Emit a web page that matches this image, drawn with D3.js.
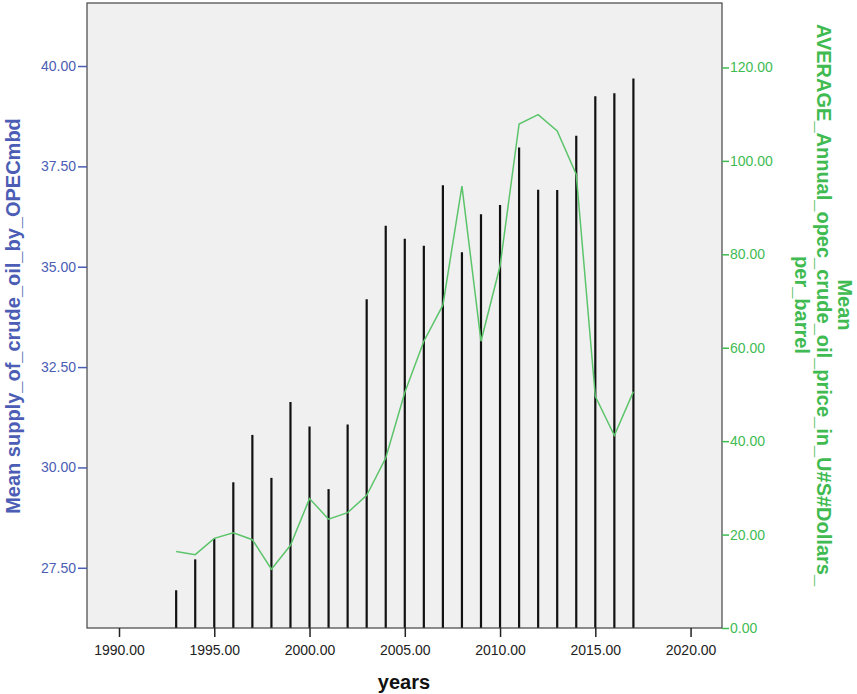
<!DOCTYPE html>
<html>
<head>
<meta charset="utf-8">
<script src="https://cdn.jsdelivr.net/npm/d3@7"></script>
<style>
  body { margin: 0; background: #fff; }
  svg text { font-family: "Liberation Sans", Arial, sans-serif; }
</style>
</head>
<body>
<div class="chart"></div>
<script>
// values
const years = [1993,1994,1995,1996,1997,1998,1999,2000,2001,2002,2003,2004,2005,
               2006,2007,2008,2009,2010,2011,2012,2013,2014,2015,2016,2017];
const supply = [26.94,27.71,28.23,29.63,30.81,29.74,31.63,31.02,29.46,31.07,34.19,36.02,35.70,
                35.52,37.03,35.36,36.31,36.54,37.97,36.92,36.91,38.26,39.25,39.32,39.69];
const price = [16.4,15.7,19.2,20.4,18.9,12.6,17.7,27.7,23.3,24.7,28.4,36.4,50.4,
               61.4,69.1,94.6,61.4,77.5,107.9,109.9,106.4,97.1,49.6,41.2,50.6];
const xTicks = [1990,1995,2000,2005,2010,2015,2020];
const leftTicks = [27.5,30,32.5,35,37.5,40];
const rightTicks = [0,20,40,60,80,100,120];

const W = 857, H = 694;
const margin = ({top:3, bottom:66, left:87, right:135});
const width = W - margin.left - margin.right,
      height = H - margin.top - margin.bottom;

const blue = '#4b5db4', green = '#3fbb52', lineGreen = '#5cc46b';

let svg = d3.select('.chart')
    .append('svg')
    .attr('width', W)
    .attr('height', H);

let group = svg.append('g')
    .attr('transform', `translate(${margin.left},${margin.top})`);

const xScale = d3.scaleLinear()
    .domain([1988.32, 2021.65])
    .range([0, width]);
const yLeft = d3.scaleLinear()
    .domain([26.0, 41.57])
    .range([height, 0]);
const yRight = d3.scaleLinear()
    .domain([0, 133.8])
    .range([height, 0]);

group.append('rect')
    .attr('width', width)
    .attr('height', height)
    .attr('fill', '#f0f0f0');

// bars drawn as thin spikes
group.selectAll('.bar')
    .data(years)
    .enter()
    .append('line')
    .attr('class', 'bar')
    .attr('x1', d => xScale(d))
    .attr('x2', d => xScale(d))
    .attr('y1', height)
    .attr('y2', (d, i) => yLeft(supply[i]))
    .attr('stroke', '#111')
    .attr('stroke-width', 2.2);

const line = d3.line()
    .x((d, i) => xScale(years[i]))
    .y(d => yRight(d));

group.append('path')
    .datum(price)
    .attr('d', line)
    .attr('fill', 'none')
    .attr('stroke', lineGreen)
    .attr('stroke-width', 1.5);

group.append('rect')
    .attr('width', width)
    .attr('height', height)
    .attr('fill', 'none')
    .attr('stroke', '#444')
    .attr('stroke-width', 1.2);

const fmt = d3.format('.2f');

const xAxis = d3.axisBottom(xScale).tickValues(xTicks).tickFormat(fmt)
    .tickSize(9).tickSizeOuter(0);
const gx = group.append('g')
    .attr('transform', `translate(0,${height})`)
    .call(xAxis);
gx.select('.domain').remove();
gx.selectAll('line').attr('stroke', '#222').attr('stroke-width', 1.5);
gx.selectAll('text').attr('fill', '#222').attr('font-size', 14).attr('dy', '1.1em');

const gl = group.append('g')
    .call(d3.axisLeft(yLeft).tickValues(leftTicks).tickFormat(fmt).tickSize(9).tickSizeOuter(0));
gl.select('.domain').remove();
gl.selectAll('line').attr('stroke', blue).attr('stroke-width', 1.5);
gl.selectAll('text').attr('fill', blue).attr('font-size', 14).attr('x', -11);

const gr = group.append('g')
    .attr('transform', `translate(${width},0)`)
    .call(d3.axisRight(yRight).tickValues(rightTicks).tickFormat(fmt).tickSize(7).tickSizeOuter(0));
gr.select('.domain').remove();
gr.selectAll('line').attr('stroke', green).attr('stroke-width', 1.5);
gr.selectAll('text').attr('fill', green).attr('font-size', 14).attr('x', 8);

svg.append('text')
    .text('years')
    .attr('x', 404)
    .attr('y', 689)
    .attr('text-anchor', 'middle')
    .attr('font-size', 20)
    .attr('font-weight', 'bold')
    .attr('fill', '#111');

svg.append('text')
    .text('Mean supply_of_crude_oil_by_OPECmbd')
    .attr('transform', 'translate(20,316) rotate(-90)')
    .attr('text-anchor', 'middle')
    .attr('font-size', 20)
    .attr('font-weight', 'bold')
    .attr('fill', blue);

const rightTitle = ['Mean', 'AVERAGE_Annual_opec_crude_oil_price_in_U#S#Dollars_', 'per_barrel'];
svg.append('g')
    .attr('transform', 'translate(845,305) rotate(90)')
    .selectAll('text')
    .data(rightTitle)
    .enter()
    .append('text')
    .text(d => d)
    .attr('x', 0)
    .attr('y', (d, i) => i * 21.5 + 7)
    .attr('text-anchor', 'middle')
    .attr('font-size', 20)
    .attr('font-weight', 'bold')
    .attr('fill', green);
</script>
</body>
</html>
